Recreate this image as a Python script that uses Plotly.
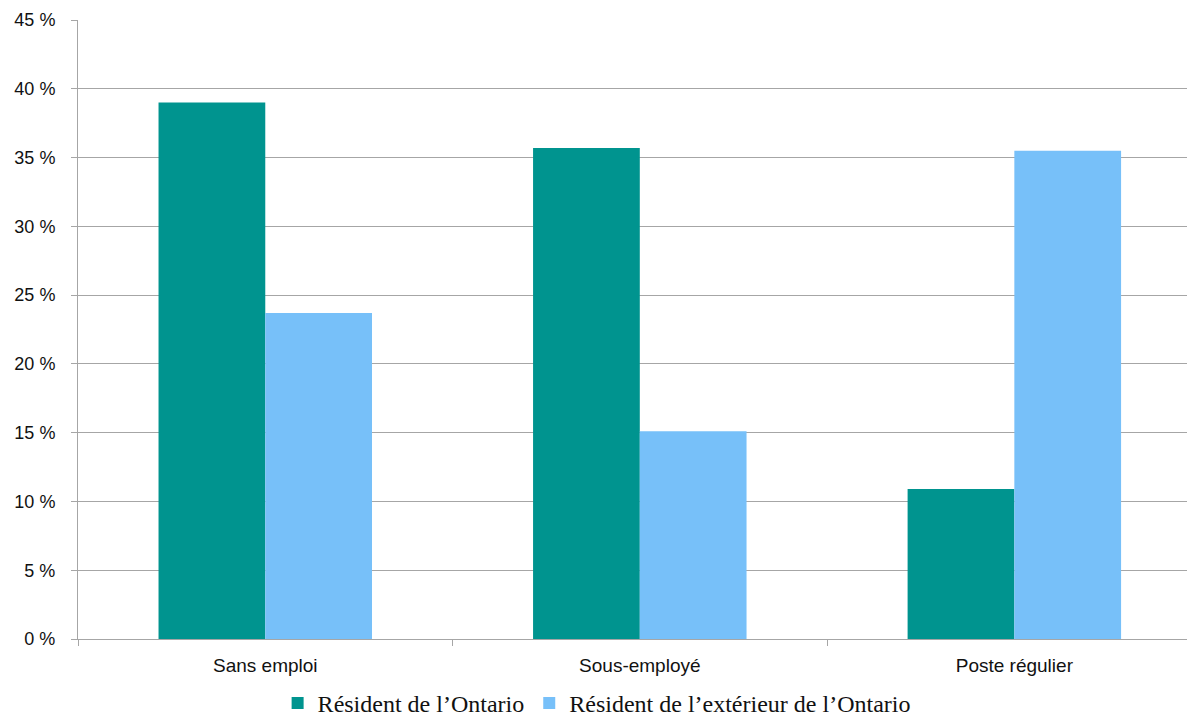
import plotly.graph_objects as go

categories = ["Sans emploi", "Sous-employé", "Poste régulier"]
ontario = [39.0, 35.7, 10.9]
exterieur = [23.7, 15.1, 35.5]
series_names = ["Résident de l’Ontario", "Résident de l’extérieur de l’Ontario"]
y_ticks = [0, 5, 10, 15, 20, 25, 30, 35, 40, 45]
y_tick_labels = [f"{v} %" for v in y_ticks]

fig = go.Figure()
fig.add_trace(go.Bar(x=categories, y=ontario, name=series_names[0],
                     marker=dict(color="#00948F", line=dict(width=0))))
fig.add_trace(go.Bar(x=categories, y=exterieur, name=series_names[1],
                     marker=dict(color="#77C0F9", line=dict(width=0))))

fig.update_layout(
    width=1187, height=717,
    margin=dict(l=78, r=0, t=20, b=78, autoexpand=False),
    paper_bgcolor="white", plot_bgcolor="white",
    barmode="group", bargap=0.43, bargroupgap=0,
    font=dict(family="Liberation Sans, Arial, sans-serif", size=19, color="#111111"),
    legend=dict(orientation="h", x=0.18, xanchor="left", y=-0.104, yanchor="middle",
                font=dict(family="Liberation Serif, Times New Roman, serif", size=24, color="#111111"),
                itemwidth=30, traceorder="normal", tracegroupgap=0),
    showlegend=True,
)
fig.update_xaxes(
    range=[-0.5, 2.461], automargin=False,
    showgrid=False, showline=True, linecolor="#a6a6a6", linewidth=1,
    ticks="outside", tickson="boundaries", ticklen=6, tickcolor="#a6a6a6",
    tickfont=dict(size=19), ticklabelstandoff=9, zeroline=False,
)
fig.update_yaxes(
    range=[0, 45], tickvals=y_ticks, ticktext=y_tick_labels, automargin=False,
    showgrid=True, gridcolor="#a6a6a6", gridwidth=1,
    showline=True, linecolor="#a6a6a6", linewidth=1,
    ticks="outside", ticklen=6, tickcolor="#a6a6a6",
    tickfont=dict(size=18), ticklabelstandoff=12, zeroline=False,
)

fig.write_html("out.html", config={"displayModeBar": False},
               post_script="document.body.style.margin='0';document.body.style.overflow='hidden';")
